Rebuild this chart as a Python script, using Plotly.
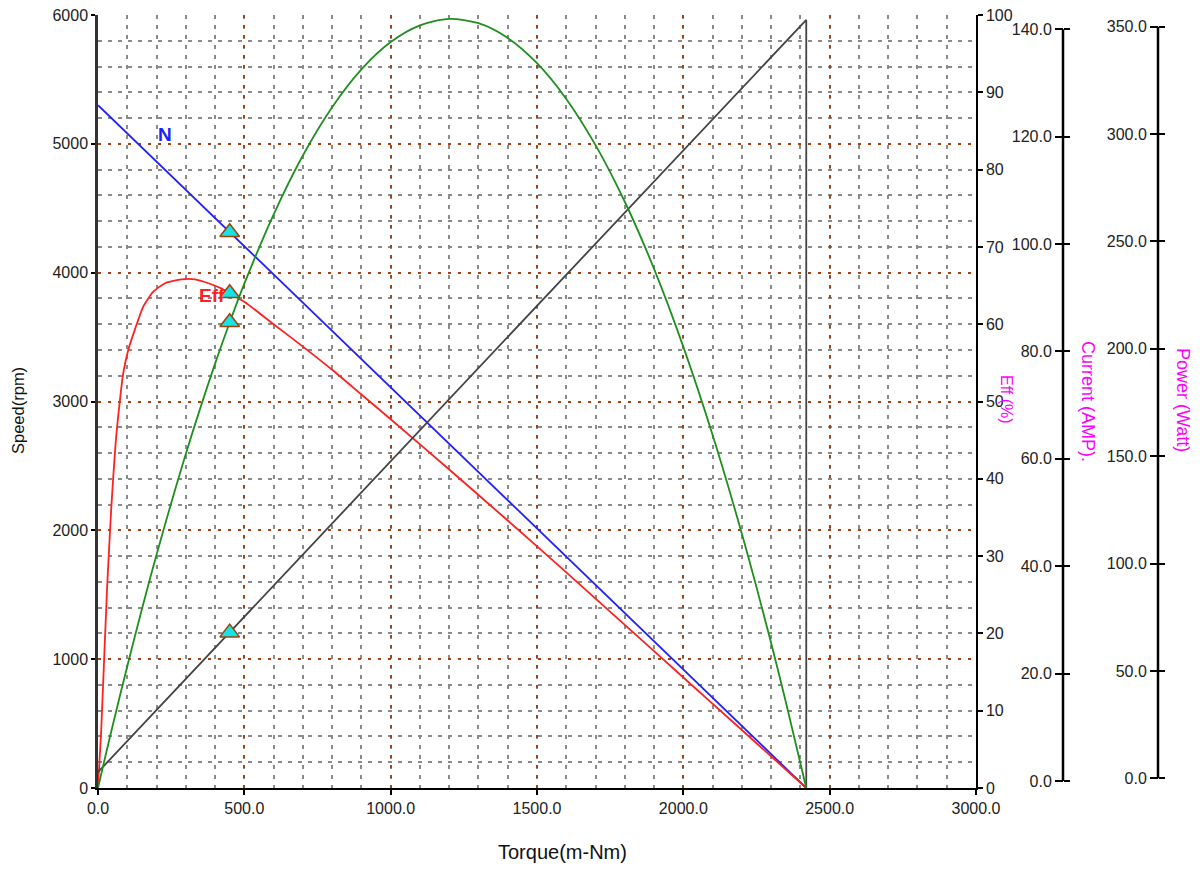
import plotly.graph_objects as go

# ---------------- data ----------------
torque_n = [0, 2420]
speed_rpm = [5300, 0]

torque_eff = [0, 11, 30, 45, 60, 75, 86, 103.5, 126, 155, 189, 229, 286, 331, 377, 423, 450,
              500, 600, 700, 800, 900, 1000, 1200, 1400, 1600, 1800, 2000, 2200, 2420]
eff_pct = [0, 7.5, 25, 36, 44.5, 50.2, 53.6, 56.7, 59.3, 62.3, 64.2, 65.3, 65.8, 65.8, 65.3, 64.6, 64.0,
           62.9, 60.0, 57.1, 54.1, 50.9, 47.7, 41.2, 34.6, 27.9, 21.1, 14.3, 7.5, 0]

torque_p = [0, 25, 50, 100, 150, 200, 300, 400, 450, 500, 600, 700, 800, 900, 1000, 1100, 1200,
            1300, 1400, 1500, 1600, 1700, 1800, 1900, 2000, 2100, 2200, 2300, 2350, 2420]
power_w = [0, 14.3, 28.3, 55.3, 81.2, 105.9, 151.7, 192.7, 211.4, 229.0, 260.4, 287.2, 309.1, 326.3,
           338.7, 346.3, 349.2, 347.3, 340.6, 329.1, 312.9, 291.9, 266.2, 235.7, 200.3, 160.3, 115.4,
           65.8, 39.2, 0]

torque_i = [0, 2420, 2420]
current_a = [2.9, 140.4, 0]

op_torque = [450]
op_speed = [4314]
op_eff = [64.0]
op_power = [211.5]
op_current = [28.4]

x_ticks = [0, 500, 1000, 1500, 2000, 2500, 3000]
x_tick_text = ["0.0", "500.0", "1000.0", "1500.0", "2000.0", "2500.0", "3000.0"]
cur_ticks = [0, 20, 40, 60, 80, 100, 120, 140]
pow_ticks = [0, 50, 100, 150, 200, 250, 300, 350]

# ---------------- styling ----------------
W, H = 1202, 869
FONT = "Liberation Sans, Arial, sans-serif"
BROWN = "#a8400f"
GRAY = "#8a8a8a"
TICKC = "#222222"
BLUE = "#2020ff"
RED = "#ff2020"
GREEN = "#1f8f1f"
DARK = "#444444"
MAG = "#ff00ff"

xdom = [98 / W, 976 / W]
ydom = [1 - 788 / H, 1 - 15 / H]
cur_pos = 1063 / W
pow_pos = 1158 / W

fig = go.Figure()

fig.add_trace(go.Scatter(x=torque_n, y=speed_rpm, mode="lines",
                         line=dict(color=BLUE, width=1.8), yaxis="y", hoverinfo="skip"))
fig.add_trace(go.Scatter(x=torque_eff, y=eff_pct, mode="lines",
                         line=dict(color=RED, width=1.8, shape="spline", smoothing=0.6),
                         yaxis="y2", hoverinfo="skip"))
fig.add_trace(go.Scatter(x=torque_p, y=power_w, mode="lines",
                         line=dict(color=GREEN, width=1.8, shape="spline", smoothing=0.8),
                         yaxis="y4", hoverinfo="skip"))
fig.add_trace(go.Scatter(x=torque_i, y=current_a, mode="lines",
                         line=dict(color=DARK, width=1.8), yaxis="y3", hoverinfo="skip"))

mk = dict(symbol="triangle-up", size=17, color="#14e4e4", line=dict(color="#a0400a", width=1.5))
fig.add_trace(go.Scatter(x=op_torque, y=op_speed, mode="markers", marker=mk, yaxis="y", hoverinfo="skip"))
fig.add_trace(go.Scatter(x=op_torque, y=op_eff, mode="markers", marker=mk, yaxis="y2", hoverinfo="skip"))
fig.add_trace(go.Scatter(x=op_torque, y=op_power, mode="markers", marker=mk, yaxis="y4", hoverinfo="skip"))
fig.add_trace(go.Scatter(x=op_torque, y=op_current, mode="markers", marker=mk, yaxis="y3", hoverinfo="skip"))

# placeholder traces so the decorative side axes are rendered
for ax in ["y5", "y6", "y7", "y8"]:
    fig.add_trace(go.Scatter(x=[None], y=[None], yaxis=ax, mode="lines", hoverinfo="skip"))

tickfont = dict(family=FONT, size=16, color=TICKC)

cur_range = [-1.30, 142.66]
pow_range = [-4.52, 355.45]

fig.update_layout(
    width=W, height=H,
    margin=dict(l=0, r=0, t=0, b=0, autoexpand=False),
    paper_bgcolor="white", plot_bgcolor="white",
    showlegend=False,
    font=dict(family=FONT),
    xaxis=dict(
        domain=xdom, range=[0, 3000], tickvals=x_ticks, ticktext=x_tick_text,
        ticks="outside", ticklen=5, tickwidth=2, tickcolor="black",
        showline=True, linecolor="black", linewidth=2,
        showgrid=True, gridcolor=BROWN, gridwidth=2, griddash="3px,7px",
        minor=dict(dtick=100, tick0=0, showgrid=True, gridcolor=GRAY, gridwidth=2, griddash="4px,6px"),
        zeroline=False, tickfont=tickfont, anchor="y", automargin=False,
    ),
    yaxis=dict(
        domain=ydom, range=[0, 6000], dtick=1000, tick0=0, tickformat="d",
        ticks="outside", ticklen=4, tickwidth=2, tickcolor="black",
        showline=True, linecolor="#333333", linewidth=2.5,
        showgrid=True, gridcolor=BROWN, gridwidth=2, griddash="3px,7px",
        minor=dict(dtick=200, tick0=0, showgrid=True, gridcolor=GRAY, gridwidth=2, griddash="4px,6px"),
        zeroline=False, tickfont=tickfont, anchor="x", automargin=False,
    ),
    yaxis2=dict(
        overlaying="y", side="right", anchor="x", range=[0, 100], dtick=10, tick0=0,
        ticks="outside", ticklen=5, tickwidth=2, tickcolor="black",
        showline=True, linecolor="black", linewidth=1.5,
        showgrid=False, zeroline=False, tickfont=tickfont, automargin=False,
    ),
    yaxis3=dict(overlaying="y", anchor="x", range=[0, 141.3], visible=False, automargin=False),
    yaxis4=dict(overlaying="y", anchor="x", range=[0, 351.0], visible=False, automargin=False),
    yaxis5=dict(
        overlaying="y", anchor="free", position=cur_pos, side="left",
        range=cur_range, tickvals=cur_ticks, tickformat=".1f",
        ticks="outside", ticklen=8, tickwidth=2, tickcolor="black",
        showline=False, showgrid=False, zeroline=False, tickfont=tickfont, automargin=False,
    ),
    yaxis6=dict(
        overlaying="y", anchor="free", position=pow_pos, side="left",
        range=pow_range, tickvals=pow_ticks, tickformat=".1f",
        ticks="outside", ticklen=8, tickwidth=2, tickcolor="black",
        showline=False, showgrid=False, zeroline=False, tickfont=tickfont, automargin=False,
    ),
    yaxis7=dict(
        overlaying="y", anchor="free", position=cur_pos, side="right",
        range=cur_range, tickvals=cur_ticks, showticklabels=False,
        ticks="outside", ticklen=6, tickwidth=2, tickcolor="black",
        showline=False, showgrid=False, zeroline=False, automargin=False,
    ),
    yaxis8=dict(
        overlaying="y", anchor="free", position=pow_pos, side="right",
        range=pow_range, tickvals=pow_ticks, showticklabels=False,
        ticks="outside", ticklen=6, tickwidth=2, tickcolor="black",
        showline=False, showgrid=False, zeroline=False, automargin=False,
    ),
)

# side axis spines (from 0 to the top tick)
fig.add_shape(type="line", xref="paper", yref="y5", x0=cur_pos, x1=cur_pos,
              y0=cur_ticks[0], y1=cur_ticks[-1], line=dict(color="black", width=2.5))
fig.add_shape(type="line", xref="paper", yref="y6", x0=pow_pos, x1=pow_pos,
              y0=pow_ticks[0], y1=pow_ticks[-1], line=dict(color="black", width=2.5))

# axis titles
def title(text, x, y, angle, size, color):
    fig.add_annotation(text=text, xref="paper", yref="paper", x=x / W, y=1 - y / H,
                       textangle=angle, showarrow=False, xanchor="center", yanchor="middle",
                       font=dict(family=FONT, size=size, color=color))

title("Speed(rpm)", 18, 411, -90, 16.5, "#111111")
title("Torque(m-Nm)", 562, 852, 0, 20, "#111111")
title("Eff (%)", 1007, 399, 90, 16, MAG)
title("Current (AMP).", 1088, 401, 90, 18, MAG)
title("Power (Watt)", 1183, 400, 90, 18, MAG)

# curve labels
def clabel(text, x, y, color):
    fig.add_annotation(text="<b>%s</b>" % text, xref="x", yref="y", x=x, y=y, showarrow=False,
                       xanchor="center", yanchor="middle",
                       font=dict(family=FONT, size=19, color=color))

clabel("N", 230, 5070, BLUE)
clabel("Eff", 389, 3819, RED)
clabel("P", 1233, 6020, GREEN)
clabel("I", 2361, 6010, "#222222")

fig.write_html("out.html", config={"displayModeBar": False},
               post_script="document.body.style.margin='0';")
